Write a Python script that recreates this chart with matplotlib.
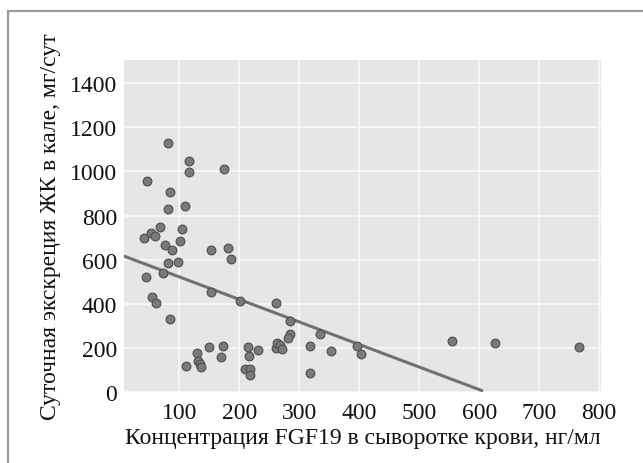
import matplotlib
matplotlib.use("Agg")
import matplotlib.pyplot as plt
from matplotlib.patches import Rectangle

# Data
fgf19 = [81, 116, 116, 174, 47, 84, 81, 109, 68, 105, 41, 53, 59, 77, 101, 88,
         153, 181, 187, 81, 98, 73, 44, 54.5, 62, 153, 201, 261, 85, 150, 173,
         130, 131, 134, 136, 111, 170, 214, 217, 232, 209, 218, 218,
         261, 263, 268, 271, 284, 285, 282, 318, 334, 353, 396, 403, 318,
         554, 627, 766]
bile_acids = [1130, 1047, 999, 1013, 957, 907, 831, 842, 747, 740, 700, 720, 706,
              668, 684, 643, 643, 652, 603, 584, 590, 541, 520, 431, 403, 454,
              412, 403, 330, 202, 208, 175, 140, 128, 113, 117, 158, 202, 161,
              191, 104, 104, 77, 200, 224, 212, 194, 321, 265, 244, 210, 264,
              187, 210, 174, 87, 231, 222, 206]
fit_x = [8, 604]
fit_y = [616, 7]
x_ticks = [100, 200, 300, 400, 500, 600, 700, 800]
y_ticks = [0, 200, 400, 600, 800, 1000, 1200, 1400]

plt.rcParams['font.family'] = ['Liberation Serif', 'DejaVu Serif']

fig = plt.figure(figsize=(6.43, 4.64), dpi=100)
ax = fig.add_axes([124/643, 1-393/464, (601-124)/643, (393-61)/464])

# outer frame (left and top visible)
fig.patches.append(Rectangle((8/643, -0.1), 1.2, (464-12)/464 + 0.1,
                             transform=fig.transFigure, fill=False,
                             edgecolor='#9a9a9a', linewidth=1.6))

ax.set_facecolor('#e5e6e8')
ax.grid(True, color='#f7f7f7', linewidth=1.3)
ax.set_axisbelow(True)
for s in ax.spines.values():
    s.set_visible(False)

ax.plot(fit_x, fit_y, color='#717171', linewidth=2.2, zorder=2)
ax.scatter(fgf19, bile_acids, s=40, facecolor='#7a7a7a', edgecolor='#4e4e4e',
           linewidth=0.8, zorder=3)

ax.set_xlim(8, 803)
ax.set_ylim(0, 1505)
ax.set_xticks(x_ticks)
ax.set_yticks(y_ticks)
ax.tick_params(axis='x', length=0, labelsize=17, colors='#111111', pad=7)
ax.tick_params(axis='y', length=0, labelsize=17, colors='#111111', pad=5)

ax.set_xlabel('Концентрация FGF19 в сыворотке крови, нг/мл', fontsize=17,
              color='#111111', labelpad=3)
ax.set_ylabel('Суточная экскреция ЖК в кале, мг/сут', fontsize=17,
              color='#111111', labelpad=6)

fig.savefig('out.png', dpi=100)
